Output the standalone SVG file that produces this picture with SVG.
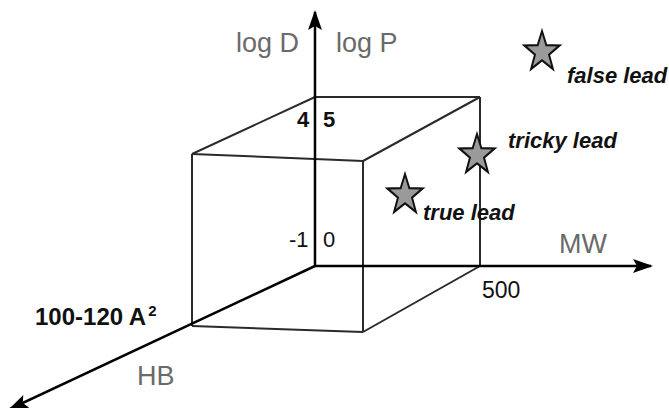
<svg xmlns="http://www.w3.org/2000/svg" width="669" height="408" viewBox="0 0 669 408">
<style>
.axis{stroke:#000;stroke-width:2.5;fill:none}
.edge{stroke:#2a2a2a;stroke-width:2;fill:none}
.ax{font-family:"Liberation Sans",Arial,sans-serif;font-size:27px;fill:#6a6a6a}
.num{font-family:"Liberation Sans",Arial,sans-serif;font-size:22px;fill:#111}
.big{font-size:23px}
.hb{font-size:24px;font-weight:bold}
.sup{font-size:15px}
.bold{font-weight:bold}
.lead{font-family:"Liberation Sans",Arial,sans-serif;font-size:22px;font-weight:bold;font-style:italic;fill:#111}
.star{fill:#9a9a9a;stroke:#111;stroke-width:2.2;stroke-linejoin:miter}
</style>
<defs>
<marker id="ah" viewBox="0 0 20 14" refX="18" refY="7" markerWidth="20" markerHeight="14" markerUnits="userSpaceOnUse" orient="auto">
<path d="M0,0 L20,7 L0,14 L4,7 Z" fill="#000"/>
</marker>
<path id="star" d="M0,-21 L4.9,-6.8 L20,-6.5 L8,2.6 L12.4,17 L0,8.4 L-12.4,17 L-8,2.6 L-20,-6.5 L-4.9,-6.8 Z"/>
</defs>
<rect width="669" height="408" fill="#fff"/>
<g id="connectors">
<g id="box">
<line class="edge" x1="315" y1="97" x2="480" y2="97"/>
<line class="edge" x1="315" y1="97" x2="192" y2="154"/>
<line class="edge" x1="480" y1="97" x2="363" y2="161"/>
<line class="edge" x1="192" y1="154" x2="363" y2="161"/>
<line class="edge" x1="192" y1="154" x2="192" y2="326"/>
<line class="edge" x1="363" y1="161" x2="363" y2="332"/>
<line class="edge" x1="480" y1="97" x2="480" y2="266"/>
<line class="edge" x1="192" y1="326" x2="363" y2="332"/>
<line class="edge" x1="480" y1="266" x2="363" y2="332"/>
</g>
<line id="axis-logd" class="axis" x1="315" y1="266" x2="315" y2="12" marker-end="url(#ah)"/>
<line id="axis-mw" class="axis" x1="315" y1="266" x2="651" y2="266" marker-end="url(#ah)"/>
<line id="axis-hb" class="axis" x1="315" y1="266" x2="10" y2="409" marker-end="url(#ah)"/>
</g>
<g id="axis-labels">
<text class="ax" x="236" y="52">log D</text>
<text class="ax" x="336" y="52">log P</text>
<text class="ax" x="559" y="253">MW</text>
<text class="ax" x="137" y="385">HB</text>
</g>
<g id="tick-labels">
<text class="num bold" x="297" y="127">4</text>
<text class="num bold" x="323" y="127">5</text>
<text class="num" x="289" y="247">-1</text>
<text class="num" x="323" y="247">0</text>
<text class="num big" x="482" y="298">500</text>
<text class="num hb" x="35" y="325">100-120 A<tspan class="sup" dy="-9" dx="2">2</tspan></text>
</g>
<g id="false-lead">
<use href="#star" class="star" transform="translate(542,52) scale(0.88,1)"/>
<text class="lead" x="567" y="83">false lead</text>
</g>
<g id="tricky-lead">
<use href="#star" class="star" transform="translate(477,155) scale(0.88,1)"/>
<text class="lead" x="508" y="148">tricky lead</text>
</g>
<g id="true-lead">
<use href="#star" class="star" transform="translate(405,195) scale(0.88,1)"/>
<text class="lead" x="423" y="220">true lead</text>
</g>
</svg>
